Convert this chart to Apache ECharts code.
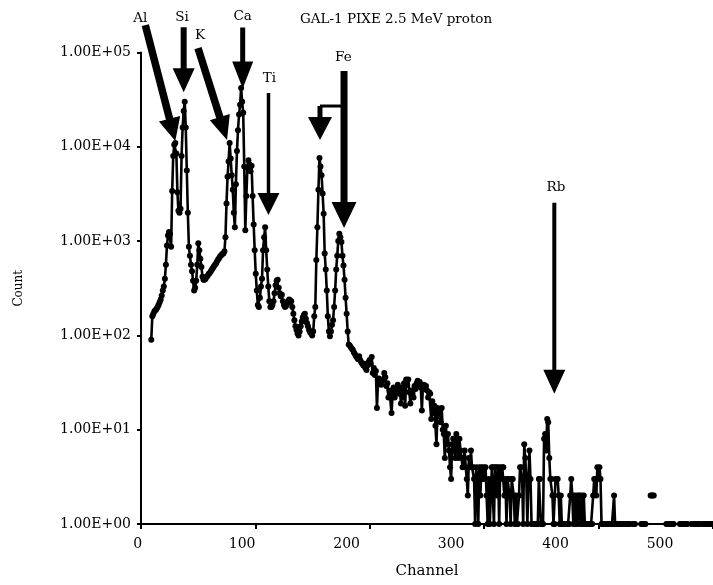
<!DOCTYPE html>
<html><head><meta charset="utf-8">
<script src="https://cdn.jsdelivr.net/npm/echarts@6/dist/echarts.min.js"></script>
<style>html,body{margin:0;padding:0;background:#fff}#c{width:713px;height:585px}</style>
</head><body><div id="c"></div>
<script>
// ---- data ----
const titleText = 'GAL-1 PIXE 2.5 MeV proton';
const xName = 'Channel';
const yName = 'Count';
const firstChannel = 13;
const counts = [
  90,160,170,180,185,190,200,210,
  225,240,265,300,330,400,560,900,1150,1250,
  1200,870,3400,8000,10500,11000,8500,3300,2100,2000,
  2200,8000,16000,24000,30000,16000,5600,2000,870,700,
  560,480,380,300,320,380,560,950,800,650,
  530,420,390,390,400,420,430,450,460,480,
  500,520,540,560,580,610,640,660,690,710,
  730,740,780,1100,2500,4800,7000,11000,7500,5000,
  3500,2000,1400,4000,9000,15000,22000,28000,42000,30000,
  23000,6200,1300,3000,6000,7200,6500,5500,6300,3000,
  1500,800,450,300,210,200,250,330,400,800,
  1100,1400,800,500,330,230,200,200,210,230,
  280,340,380,390,320,280,260,270,230,210,
  200,205,215,230,240,235,230,200,170,145,
  125,115,105,100,110,125,140,155,165,170,
  150,135,125,115,108,105,100,110,160,200,
  630,1400,3500,7600,6200,5000,3200,1950,740,500,
  300,160,110,98,110,130,145,200,300,500,
  700,1000,1200,1100,980,700,550,390,250,170,
  110,80,78,75,72,70,66,63,60,58,
  56,60,55,52,50,48,50,45,43,48,
  52,55,50,59,40,45,38,42,17,31,
  35,32,30,33,34,40,36,29,31,22,
  26,25,15,24,28,22,27,26,30,24,
  26,19,28,22,31,18,34,30,34,25,
  19,26,24,22,29,27,31,33,30,32,
  28,16,29,30,27,29,26,22,25,24,
  13,20,15,18,11,7,17,15,14,12,
  17,10,9,5,11,7,9,6,4,3,
  7,8,6,5,9,7,5,8,6,5,
  4,5,6,4,3,2,5,4,6,4,
  4,3,1,4,3,1,4,2,4,3,
  4,3,4,2,1,3,1,2,4,4,
  1,4,4,2,4,1,4,3,4,4,
  2,3,1,3,3,2,1,3,3,2,
  1,2,1,1,2,4,4,3,1,7,
  5,3,1,3,6,3,1,1,1,1,
  1,1,1,3,3,1,1,1,8,9,
  6,13,12,5,3,3,2,1,1,3,
  3,3,2,1,2,1,1,1,1,1,
  1,1,1,2,3,2,1,2,1,2,
  1,2,2,1,2,1,2,1,1,1,
  1,1,1,1,1,2,3,3,2,4,
  3,4,3,1,1,1,1,1,1,1,
  1,1,1,1,1,2,1,1,1,1,
  1,1,1,null,1,1,1,1,1,1,
  1,null,null,1,1,1,null,null,null,null,
  null,1,1,1,1,1,null,null,null,null,
  2,2,2,2,null,null,null,null,null,null,
  null,null,null,null,null,1,1,1,1,1,
  1,1,1,null,null,null,null,null,1,1,
  1,1,1,1,1,1,null,null,null,1,
  1,1,1,1,1,1,1,1,null,null,
  1,1,1,1,1,1,1,1,1,1
];
const channelTicks = [0,100,200,300,400,500];
const countTicks = [1,10,100,1000,10000,100000];
// peak annotations: element label and the (channel, count) the arrow tip points at
const peakLabels   = ['Al','Si','K','Ca','Ti','Fe','Fe','Rb'];
const peakChannels = [36, 44, 85.5, 100.5, 125.2, 197.5, 174.5, 398.8];
const peakCounts   = [11500, 38000, 11800, 41500, 1890, 1380, 11800, 24];

// ---- layout / style (not data) ----
const FONT = '"DejaVu Serif", serif';
// per annotation: tail offset from tip, shaft width, head length, head width, label offset, bent branch
const arrowStyle = [
  {tail:[-30,-116], w:7.5, hl:23, hw:22, lab:[-35,-123]},
  {tail:[0,-65],    w:6, hl:24, hw:22, lab:[-1.6,-75]},
  {tail:[-29,-92],  w:7.5, hl:24, hw:21, lab:[-27,-105]},
  {tail:[0,-61],    w:5, hl:27, hw:21, lab:[0,-72]},
  {tail:[0,-122],   w:3.5, hl:22, hw:22, lab:[0.8,-137]},
  {tail:[0,-157],   w:7, hl:26, hw:25, lab:[-0.7,-170]},
  {tail:[0,-34],    w:5, hl:23, hw:24, lab:null, branch:[[27,-34],[0,-34]]},
  {tail:[0,-191],   w:4, hl:24, hw:22, lab:[1.7,-206]}
];

const chartData = counts.map((c, i) => [firstChannel + i, c]);
const chart = echarts.init(document.getElementById('c'), null, {renderer:'canvas'});

function expLabel(v){
  const e = Math.round(Math.log10(v));
  return '1.00E+' + (e < 10 ? '0' : '') + e;
}

const option = {
  animation: false,
  backgroundColor: '#fff',
  title: {
    text: titleText, left: 295, top: 7,
    textStyle: {fontFamily: FONT, fontSize: 13.5, fontWeight: 'normal', color: '#000'}
  },
  grid: [
    {left: 137.7, right: 0, top: 52.5, bottom: 61, containLabel: false},
    {left: 141, width: 578.5, top: 52.5, bottom: 61, containLabel: false}
  ],
  xAxis: [
    {
      type: 'value', gridIndex: 0, min: channelTicks[0], max: 550.7, interval: 100,
      axisLine: {show: false}, axisTick: {show: false}, splitLine: {show: false},
      axisLabel: {
        margin: 13, color: '#000', fontFamily: FONT, fontSize: 14,
        showMaxLabel: false,
        formatter: v => (channelTicks.indexOf(v) >= 0 ? String(v) : '')
      }
    },
    {
      type: 'value', gridIndex: 1, min: 0, max: 500, interval: 100,
      name: xName, nameLocation: 'middle', nameGap: 40,
      nameTextStyle: {fontFamily: FONT, fontSize: 15, color: '#000'},
      axisLine: {show: true, lineStyle: {color: '#000', width: 2}},
      axisTick: {show: true, length: 5, lineStyle: {color: '#000', width: 2}},
      axisLabel: {show: false}, splitLine: {show: false}
    }
  ],
  yAxis: [
    {
      type: 'log', gridIndex: 0, logBase: 10, min: countTicks[0], max: countTicks[countTicks.length-1],
      show: false
    },
    {
      type: 'log', gridIndex: 1, logBase: 10, min: countTicks[0], max: countTicks[countTicks.length-1],
      splitNumber: 5,
      name: yName, nameLocation: 'middle', nameGap: 116, nameRotate: 90,
      nameTextStyle: {fontFamily: FONT, fontSize: 12, color: '#000'},
      axisLine: {show: true, lineStyle: {color: '#000', width: 2}},
      axisTick: {show: true, length: 4, lineStyle: {color: '#000', width: 2}},
      splitLine: {show: false},
      axisLabel: {margin: 10, color: '#000', fontFamily: FONT, fontSize: 14, formatter: expLabel}
    }
  ],
  series: [{
    type: 'line', xAxisIndex: 0, yAxisIndex: 0,
    data: chartData,
    symbol: 'circle', symbolSize: 6, showSymbol: true,
    connectNulls: false, clip: false,
    lineStyle: {color: '#000', width: 2.6},
    itemStyle: {color: '#000', borderWidth: 0},
    emphasis: {disabled: true}
  }]
};
chart.setOption(option);

function arrowPoly(tx, ty, px, py, w, hl, hw){
  const dx = px - tx, dy = py - ty, L = Math.hypot(dx, dy);
  const ux = dx / L, uy = dy / L, nx = -uy, ny = ux;
  const bx = px - ux * hl, by = py - uy * hl;
  return [
    [tx + nx*w/2, ty + ny*w/2], [bx + nx*w/2, by + ny*w/2], [bx + nx*hw/2, by + ny*hw/2],
    [px, py],
    [bx - nx*hw/2, by - ny*hw/2], [bx - nx*w/2, by - ny*w/2], [tx - nx*w/2, ty - ny*w/2]
  ];
}

const graphics = [];
peakLabels.forEach((lab, i) => {
  const tip = chart.convertToPixel({xAxisIndex: 0, yAxisIndex: 0}, [peakChannels[i], peakCounts[i]]);
  const s = arrowStyle[i];
  const tx = tip[0] + s.tail[0], ty = tip[1] + s.tail[1];
  graphics.push({type: 'polygon', silent: true, z: 100,
    shape: {points: arrowPoly(tx, ty, tip[0], tip[1], s.w, s.hl, s.hw)},
    style: {fill: '#000'}});
  if (s.branch) {
    graphics.push({type: 'polyline', silent: true, z: 100,
      shape: {points: s.branch.map(p => [tip[0] + p[0], tip[1] + p[1]])},
      style: {stroke: '#000', lineWidth: 3, fill: null}});
  }
  if (s.lab) {
    graphics.push({type: 'text', silent: true, z: 101,
      x: tip[0] + s.lab[0], y: tip[1] + s.lab[1],
      style: {text: lab, fill: '#000', font: '13.5px ' + FONT,
        textAlign: 'center', textVerticalAlign: 'middle', align: 'center', verticalAlign: 'middle'}});
  }
});
chart.setOption({graphic: graphics});
</script>
</body></html>
